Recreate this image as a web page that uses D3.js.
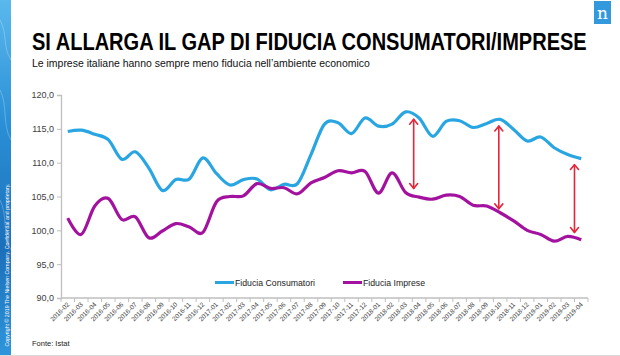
<!DOCTYPE html>
<html>
<head>
<meta charset="utf-8">
<script src="https://cdn.jsdelivr.net/npm/d3@7"></script>
<style>
  html, body { margin: 0; padding: 0; background: #ffffff; }
  svg { display: block; }
  text { font-family: "Liberation Sans", Arial, sans-serif; }
</style>
</head>
<body>
<svg id="chart" width="620" height="356"></svg>
<script>
// ---------- DATA ----------
const categories = ["2016-02","2016-03","2016-04","2016-05","2016-06","2016-07","2016-08","2016-09","2016-10","2016-11","2016-12",
  "2017-01","2017-02","2017-03","2017-04","2017-05","2017-06","2017-07","2017-08","2017-09","2017-10","2017-11","2017-12",
  "2018-01","2018-02","2018-03","2018-04","2018-05","2018-06","2018-07","2018-08","2018-09","2018-10","2018-11","2018-12",
  "2019-01","2019-02","2019-03","2019-04"];

const consumatori = [114.6, 114.8, 114.2, 113.4, 110.5, 111.6, 109.2, 105.9, 107.5, 107.6, 110.7, 108.4, 106.7,
  107.5, 107.6, 106.0, 106.8, 106.9, 111.2, 115.7, 115.9, 114.3, 116.6, 115.4, 115.7, 117.5,
  116.6, 113.9, 116.1, 116.2, 115.2, 115.8, 116.4, 114.9, 113.2, 113.8, 112.2, 111.2, 110.6];

const imprese = [101.8, 99.4, 103.6, 104.7, 101.6, 102.0, 98.9, 99.9, 101.0, 100.5, 99.7, 104.2, 105.0,
  105.1, 106.9, 106.2, 106.3, 105.4, 107.0, 107.8, 108.8, 108.5, 108.7, 105.5, 108.5, 105.6,
  104.9, 104.6, 105.2, 105.0, 103.7, 103.6, 102.6, 101.4, 100.0, 99.4, 98.4, 99.1, 98.6];

const yTicks = [90, 95, 100, 105, 110, 115, 120];
const seriesNames = ["Fiducia Consumatori", "Fiducia Imprese"];

// gap arrows: position as (fractional) category index, top and bottom values
const arrowIndex = [25.6, 31.9, 37.5];
const arrowTop = [116.4, 115.4, 109.7];
const arrowBottom = [106.2, 103.2, 99.7];

const titleText = "SI ALLARGA IL GAP DI FIDUCIA CONSUMATORI/IMPRESE";
const subtitleText = "Le imprese italiane hanno sempre meno fiducia nell\u2019ambiente economico";
const sourceText = "Fonte: Istat";
const copyrightText = "Copyright \u00A9 2019 The Nielsen Company. Confidential and proprietary.";

// ---------- LAYOUT ----------
const colors = { cons: "#29a6e2", imp: "#a3129f", arrow: "#e5263a", axis: "#bfbfbf", text: "#404040" };
const plot = { left: 61, right: 588, top: 95, bottom: 298 };

const svg = d3.select("#chart");

// fit a text to a given width by horizontal scaling (keeps bbox inside)
function fitText(sel, x0, y0, width) {
  const w = sel.node().getComputedTextLength();
  sel.attr("x", 0).attr("y", 0)
     .attr("transform", `translate(${x0},${y0}) scale(${width / w},1)`);
  return sel;
}

// left decorative strip
const defs = svg.append("defs");
const grad = defs.append("linearGradient").attr("id", "strip").attr("x1", 0).attr("y1", 0).attr("x2", 0).attr("y2", 1);
grad.append("stop").attr("offset", "0%").attr("stop-color", "#5ab8ec");
grad.append("stop").attr("offset", "35%").attr("stop-color", "#2a8fd6");
grad.append("stop").attr("offset", "70%").attr("stop-color", "#1c6fb9");
grad.append("stop").attr("offset", "100%").attr("stop-color", "#2f95da");
svg.append("rect").attr("x", 0).attr("y", 0).attr("width", 11).attr("height", 356).attr("fill", "url(#strip)");
[[20, 60], [90, 140], [200, 250]].forEach(([y1, y2]) => {
  svg.append("path")
    .attr("d", `M0,${y1} C8,${y1 + 15} 2,${y2 - 15} 11,${y2}`)
    .attr("fill", "none").attr("stroke", "#ffffff").attr("stroke-opacity", 0.25).attr("stroke-width", 1);
});
svg.append("text")
  .attr("transform", "translate(8.5,265) rotate(-90)")
  .attr("text-anchor", "middle")
  .attr("font-size", 5)
  .attr("fill", "#ffffff")
  .attr("textLength", 163).attr("lengthAdjust", "spacingAndGlyphs")
  .text(copyrightText);

// logo
svg.append("rect").attr("x", 594).attr("y", 1).attr("width", 17).attr("height", 23).attr("fill", "#3399dd");
svg.append("text").attr("x", 602.5).attr("y", 19).attr("text-anchor", "middle")
  .attr("font-size", 17).attr("fill", "#ffffff")
  .style("font-family", "'DejaVu Serif', serif")
  .text("n");

// title & subtitle
const title = svg.append("text")
  .attr("font-size", 24).attr("font-weight", "bold").attr("fill", "#000000")
  .style("font-family", "'Liberation Sans Narrow', 'Liberation Sans', Arial, sans-serif")
  .text(titleText);
fitText(title, 32, 49.5, 555);
const subtitle = svg.append("text")
  .attr("font-size", 10.3).attr("fill", "#111111")
  .text(subtitleText);
fitText(subtitle, 32, 66.5, 338);

// ---------- SCALES ----------
const x = d3.scaleBand().domain(categories).range([plot.left, plot.right]).paddingInner(0).paddingOuter(0);
const xIdx = d3.scaleLinear().domain([-0.5, categories.length - 0.5]).range([plot.left, plot.right]);
const y = d3.scaleLinear().domain([90, 120]).range([plot.bottom, plot.top]);

// ---------- AXES ----------
const yAxis = d3.axisLeft(y).tickValues(yTicks).tickSize(4).tickPadding(3)
  .tickFormat(d => d3.format(".1f")(d).replace(".", ","));
const gy = svg.append("g").attr("transform", `translate(${plot.left},0)`).call(yAxis);
gy.select(".domain").attr("stroke", colors.axis).attr("stroke-width", 1.3);
gy.selectAll(".tick line").attr("stroke", colors.axis);
gy.selectAll(".tick text").attr("font-size", 9).attr("fill", colors.text)
  .style("font-family", "'Liberation Sans', Arial, sans-serif");

// x axis line and tick marks at category boundaries
svg.append("line").attr("x1", plot.left).attr("x2", plot.right)
  .attr("y1", plot.bottom).attr("y2", plot.bottom)
  .attr("stroke", colors.axis).attr("stroke-width", 1.3);
const boundaries = categories.map(c => x(c)).concat([x(categories[categories.length - 1]) + x.bandwidth()]);
svg.append("g").selectAll("line").data(boundaries).join("line")
  .attr("x1", d => d).attr("x2", d => d)
  .attr("y1", plot.bottom).attr("y2", plot.bottom + 4)
  .attr("stroke", colors.axis);
svg.append("g").selectAll("text").data(categories).join("text")
  .attr("transform", d => `translate(${x(d) + x.bandwidth() / 2 + 2},${plot.bottom + 7}) rotate(-45)`)
  .attr("text-anchor", "end")
  .attr("font-size", 6.5)
  .attr("fill", colors.text)
  .text(d => d);

// ---------- LINES ----------
const line = d3.line()
  .x((d, i) => x(categories[i]) + x.bandwidth() / 2)
  .y(d => y(d))
  .curve(d3.curveCardinal.tension(0));

svg.append("path").datum(consumatori).attr("d", line)
  .attr("fill", "none").attr("stroke", colors.cons).attr("stroke-width", 3.2).attr("stroke-linejoin", "round");
svg.append("path").datum(imprese).attr("d", line)
  .attr("fill", "none").attr("stroke", colors.imp).attr("stroke-width", 3.2).attr("stroke-linejoin", "round");

// ---------- ARROWS ----------
const ah = 4; // arrow head size
const arrowsG = svg.append("g").attr("stroke", colors.arrow).attr("stroke-width", 1.6).attr("fill", "none")
  .attr("stroke-linecap", "round").attr("stroke-linejoin", "round");
arrowIndex.forEach((ix, k) => {
  const ax = xIdx(ix), yt = y(arrowTop[k]), yb = y(arrowBottom[k]);
  arrowsG.append("line").attr("x1", ax).attr("x2", ax).attr("y1", yt).attr("y2", yb);
  arrowsG.append("path").attr("d", `M${ax - ah},${yt + ah * 1.2} L${ax},${yt} L${ax + ah},${yt + ah * 1.2}`);
  arrowsG.append("path").attr("d", `M${ax - ah},${yb - ah * 1.2} L${ax},${yb} L${ax + ah},${yb - ah * 1.2}`);
});

// ---------- LEGEND ----------
const legend = [
  { name: seriesNames[0], color: colors.cons, x0: 215, w: 80 },
  { name: seriesNames[1], color: colors.imp, x0: 343, w: 62 }
];
const lg = svg.append("g");
legend.forEach(l => {
  lg.append("line").attr("x1", l.x0).attr("x2", l.x0 + 19).attr("y1", 282.5).attr("y2", 282.5)
    .attr("stroke", l.color).attr("stroke-width", 3);
  lg.append("text").attr("x", l.x0 + 20).attr("y", 285.8)
    .attr("font-size", 9).attr("fill", "#222222")
    .attr("textLength", l.w).attr("lengthAdjust", "spacingAndGlyphs")
    .text(l.name);
});

// ---------- SOURCE ----------
svg.append("text").attr("x", 32).attr("y", 346)
  .attr("font-size", 7.5).attr("fill", "#222222")
  .text(sourceText);

// slide edge line
svg.append("line").attr("x1", 0).attr("x2", 620).attr("y1", 355.5).attr("y2", 355.5).attr("stroke", "#d9d9d9");
</script>
</body>
</html>
